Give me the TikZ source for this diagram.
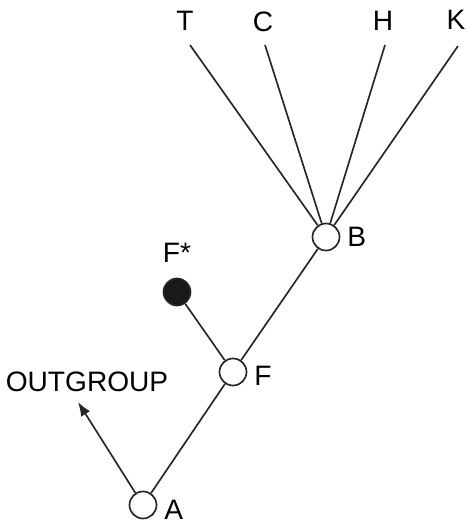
\documentclass[tikz,border=0pt]{standalone}
\usepackage{fontspec}
\setmainfont{Liberation Sans}
\usepackage{tikz}
\usetikzlibrary{arrows.meta}

\begin{document}
\begin{tikzpicture}[x=0.02cm,y=-0.02cm] % one unit = one step of the grid
\tikzset{%
  >={Latex[length=8pt,width=6pt]}, % option for nice arrows
  every node/.style={font=\fontsize{16}{19}\selectfont},
  branch/.style={line width=0.95pt,draw=black!85},
  open node/.style={circle,draw=black!85,line width=0.95pt,fill=white,
    inner sep=0pt,minimum size=0.54cm},
  filled node/.style={open node,fill=black!90},
  tag/.style={label distance=0.5pt}%
}

%% page
\useasboundingbox (0,0) rectangle (467,523);

%% internal nodes and the extra one

\node[open node,label={[tag,yshift=-2.5pt]right:A}] (A) at (143,505) {};
\node[open node,label={[tag,yshift=-2pt]right:F}] (F) at (233,372) {};
\node[open node,label={[tag]right:B}] (B) at (326,237) {};
\node[filled node,label={[label distance=5pt]above:F*}] (Fs) at (177,292) {};

%% terminal taxa

\node (T) at (185,21) {T};
\node (C) at (263,22) {C};
\node (H) at (383,21) {H};
\node (K) at (456,20) {K};
\coordinate (tT) at (190,45);
\coordinate (tC) at (265,45);
\coordinate (tH) at (385,45);
\coordinate (tK) at (458,46);

%% outgroup
\node (out) at (87,382) {OUTGROUP};
\coordinate (og) at (78,402);

%% branches

\draw[branch,->] (A) -- (og);
\draw[branch] (A) -- (F);
\draw[branch] (F) -- (B);
\draw[branch] (F) -- (Fs);
\foreach \t in {T,C,H,K}
  \draw[branch] (B) -- (t\t);
\end{tikzpicture}
\end{document}
